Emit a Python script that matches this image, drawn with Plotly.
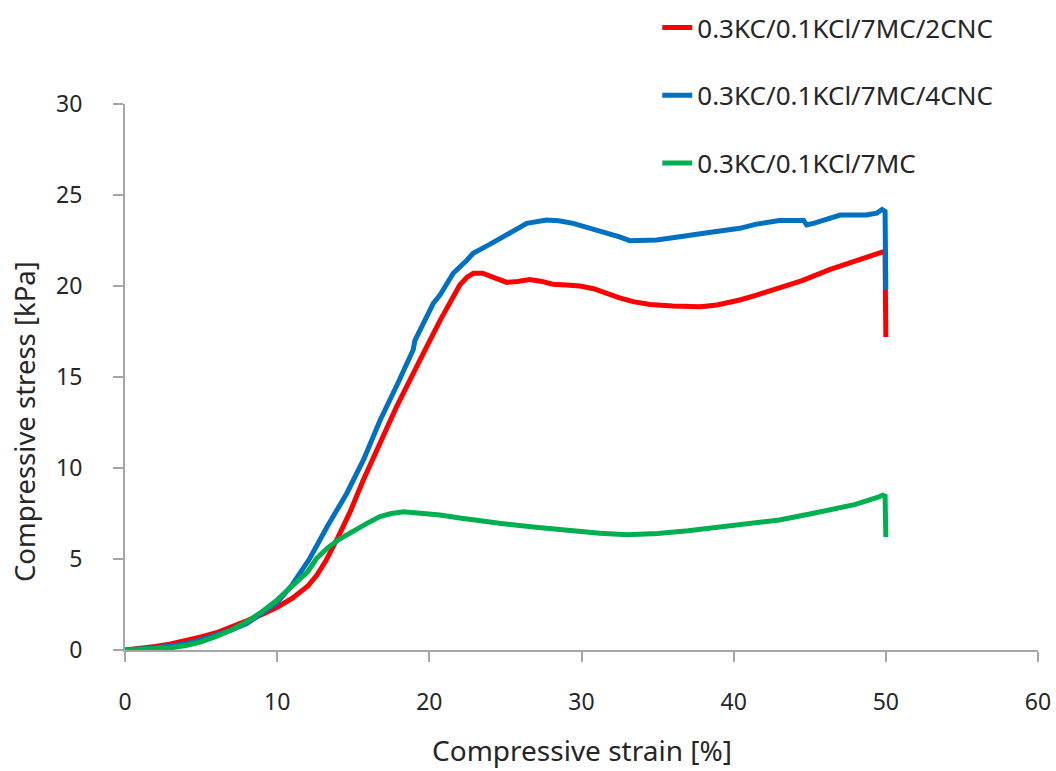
import plotly.graph_objects as go

# Data
red_name = "0.3KC/0.1KCl/7MC/2CNC"
red_x = [0, 1, 2, 3, 4, 5, 6, 7, 8, 9, 10, 11, 12, 12.6, 13.2, 14, 14.8, 15.66, 17.85, 19.38, 20.7, 22.0, 22.5, 22.9, 23.5, 24.3, 25.1, 25.8, 26.6, 27.4, 28.1, 29.0, 29.9, 30.8, 31.6, 32.5, 33.4, 34.5, 36.0, 37.8, 38.9, 40.4, 41.5, 43.0, 44.5, 46.3, 48, 49.7, 49.95, 50, 50]
red_y = [0, 0.08, 0.2, 0.33, 0.5, 0.72, 0.95, 1.25, 1.6, 1.95, 2.35, 2.85, 3.5, 4.1, 4.9, 6.2, 7.6, 9.34, 13.37, 15.93, 18.1, 20.05, 20.5, 20.7, 20.7, 20.45, 20.2, 20.25, 20.36, 20.25, 20.1, 20.05, 20.0, 19.85, 19.6, 19.35, 19.14, 18.98, 18.9, 18.86, 18.96, 19.23, 19.5, 19.87, 20.3, 20.9, 21.4, 21.85, 21.9, 19.6, 17.2]

blue_name = "0.3KC/0.1KCl/7MC/4CNC"
blue_x = [0, 1, 2, 3, 4, 5, 6, 7, 8, 9, 10, 11, 12.15, 13.3, 14.57, 15.7, 16.75, 17.9, 18.94, 19.05, 19.6, 20.26, 20.7, 21.57, 22.45, 22.88, 24, 25.07, 25.8, 26.4, 27.7, 28.5, 29.45, 30.5, 31.65, 32.5, 33.18, 34.93, 36, 37.12, 38.5, 40.4, 41.5, 43.0, 44.6, 44.8, 45.3, 47.0, 48.7, 49.4, 49.75, 49.95, 50]
blue_y = [0, 0.05, 0.12, 0.22, 0.35, 0.55, 0.8, 1.1, 1.45, 2.0, 2.6, 3.6, 5.04, 6.8, 8.6, 10.5, 12.6, 14.6, 16.5, 17.0, 18.0, 19.05, 19.5, 20.7, 21.4, 21.8, 22.3, 22.8, 23.2, 23.44, 23.63, 23.58, 23.44, 23.2, 22.9, 22.7, 22.49, 22.53, 22.65, 22.8, 22.95, 23.17, 23.4, 23.6, 23.6, 23.35, 23.45, 23.9, 23.9, 24.0, 24.2, 24.1, 19.8]

green_name = "0.3KC/0.1KCl/7MC"
green_x = [0, 1, 2, 3, 4, 5, 6, 7, 8, 9, 10, 11, 12, 12.6, 13.3, 14.1, 15.0, 15.9, 16.75, 17.5, 18.3, 19.3, 20.7, 22, 23.3, 24.6, 27, 29, 31.2, 33, 35, 37, 40, 43, 45, 47, 48, 49.5, 49.8, 49.95, 50]
green_y = [0, 0.02, 0.05, 0.12, 0.25, 0.45, 0.75, 1.1, 1.55, 2.1, 2.75, 3.5, 4.3, 5.04, 5.6, 6.1, 6.55, 6.96, 7.33, 7.5, 7.6, 7.55, 7.42, 7.25, 7.1, 6.96, 6.75, 6.58, 6.41, 6.33, 6.4, 6.55, 6.87, 7.14, 7.47, 7.87, 8.0, 8.4, 8.5, 8.45, 6.2]

x_title = "Compressive strain [%]"
y_title = "Compressive stress [kPa]"

FONT = "Noto Sans"
TXT = "#262626"
AX = "#a6a6a6"

fig = go.Figure()
series = [
    (red_name, red_x, red_y, "#ff0000"),
    (blue_name, blue_x, blue_y, "#0070c0"),
    (green_name, green_x, green_y, "#00b050"),
]
for i, (n, xs, ys, c) in enumerate(series):
    fig.add_trace(go.Scatter(x=xs, y=ys, name=n, mode="lines",
                             line=dict(color=c, width=5),
                             legendgroup=f"g{i}"))

fig.add_annotation(text=x_title, xref="paper", yref="paper", x=0.5, y=-0.184,
                   xanchor="center", yanchor="middle", showarrow=False,
                   font=dict(family=FONT, size=28, color=TXT))
fig.add_annotation(text=y_title, xref="paper", yref="paper", x=-0.1095, y=0.4176,
                   xanchor="center", yanchor="middle", showarrow=False, textangle=-90,
                   font=dict(family=FONT, size=27.5, color=TXT))

fig.update_layout(
    width=1056, height=771,
    margin=dict(l=125, r=18, t=104, b=121, autoexpand=False),
    paper_bgcolor="white", plot_bgcolor="white",
    font=dict(family=FONT, size=24, color=TXT),
    showlegend=True,
    legend=dict(x=0.583, y=1.183, xanchor="left", yanchor="top",
                font=dict(family=FONT, size=26, color=TXT),
                tracegroupgap=31, bgcolor="rgba(0,0,0,0)"),
    xaxis=dict(range=[0, 60], dtick=10, tick0=0, showgrid=False, zeroline=False,
               showline=True, linecolor=AX, linewidth=2, automargin=False,
               ticks="outside", ticklen=10, tickcolor=AX, tickwidth=2,
               ticklabelstandoff=20,
               tickfont=dict(family=FONT, size=23, color=TXT)),
    yaxis=dict(range=[0, 30], dtick=5, tick0=0, showgrid=False, zeroline=False,
               showline=True, linecolor=AX, linewidth=2, automargin=False,
               ticks="outside", ticklen=10, tickcolor=AX, tickwidth=2,
               ticklabelstandoff=26,
               tickfont=dict(family=FONT, size=23, color=TXT)),
)

fig.write_html("out.html")
